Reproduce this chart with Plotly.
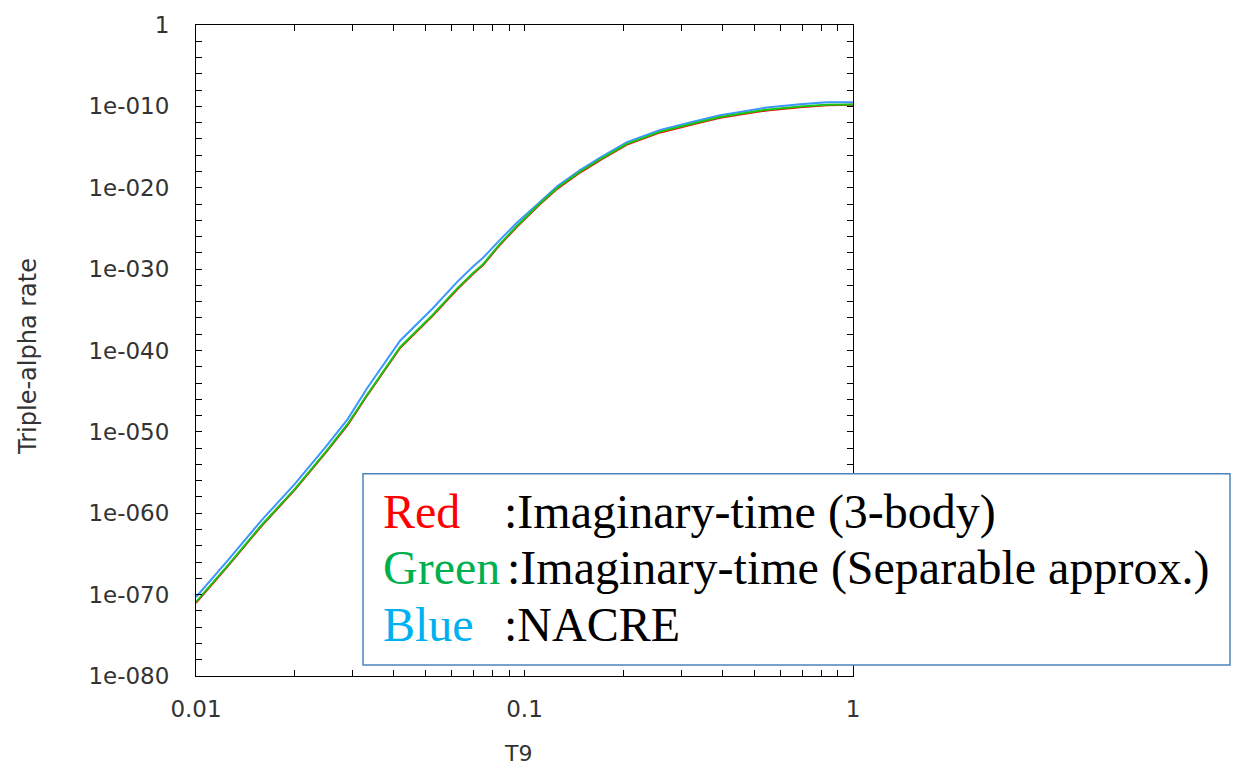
import plotly.graph_objects as go

# ---- data ----
t9 = [0.0100, 0.0125, 0.0158, 0.0200, 0.0250, 0.0290, 0.0331, 0.0418, 0.0526,
      0.0623, 0.0696, 0.0748, 0.0842, 0.0948, 0.111, 0.126, 0.148, 0.170,
      0.205, 0.259, 0.326, 0.394, 0.453, 0.546, 0.690, 0.832, 1.000]

rate_red = [1.0e-71, 3.16e-67, 2.51e-62, 7.94e-58, 3.98e-53, 7.94e-50, 2.51e-46,
            2.0e-40, 2.0e-36, 3.16e-33, 2.51e-31, 3.16e-30, 1.0e-27, 1.58e-25,
            7.94e-23, 7.94e-21, 7.94e-19, 2.51e-17, 2.0e-15, 6.31e-14, 6.31e-13,
            3.98e-12, 1.0e-11, 3.16e-11, 7.94e-11, 1.41e-10, 1.58e-10]

rate_green = [1.26e-71, 3.98e-67, 3.16e-62, 1.0e-57, 5.01e-53, 1.0e-49, 3.16e-46,
              2.51e-40, 2.51e-36, 3.98e-33, 3.16e-31, 3.98e-30, 1.26e-27, 2.0e-25,
              1.0e-22, 1.0e-20, 1.0e-18, 3.16e-17, 2.51e-15, 7.94e-14, 7.94e-13,
              5.01e-12, 1.26e-11, 3.98e-11, 1.0e-10, 1.58e-10, 1.66e-10]

rate_blue = [5.01e-71, 1.58e-66, 1.26e-61, 3.98e-57, 2.0e-52, 3.98e-49, 2.0e-45,
             1.58e-39, 1.58e-35, 2.51e-32, 2.0e-30, 2.51e-29, 3.98e-27, 5.01e-25,
             1.58e-22, 1.58e-20, 1.58e-18, 5.01e-17, 3.98e-15, 1.26e-13, 1.26e-12,
             7.94e-12, 2.0e-11, 7.08e-11, 1.78e-10, 3.16e-10, 3.31e-10]

x_tickvals = [0.01, 0.1, 1]
x_ticktext = ["0.01", "0.1", "1"]
x_minor = [0.02, 0.03, 0.04, 0.05, 0.06, 0.07, 0.08, 0.09,
           0.2, 0.3, 0.4, 0.5, 0.6, 0.7, 0.8, 0.9]

y_tickvals = [1, 1e-10, 1e-20, 1e-30, 1e-40, 1e-50, 1e-60, 1e-70, 1e-80]
y_ticktext = ["1", "1e-010", "1e-020", "1e-030", "1e-040", "1e-050",
              "1e-060", "1e-070", "1e-080"]
y_minor = [10.0 ** (-k) for k in range(2, 80, 2) if k % 10 != 0]

legend_labels = ["Red", "Green", "Blue"]
legend_colors = ["#ff0000", "#00b050", "#00b0f0"]
legend_texts = [":Imaginary-time (3-body)", ":Imaginary-time (Separable approx.)", ":NACRE"]

# ---- figure geometry (pixels) ----
W, H = 1239, 769
L, R, T, B = 196, 853, 19, 676
pw, ph = R - L, B - T


def px(xp):
    return (xp - L) / pw


def py(yp):
    return (B - yp) / ph


fig = go.Figure()
fig.add_trace(go.Scatter(x=t9, y=rate_blue, mode="lines",
                         line=dict(color="rgb(60,150,255)", width=2), showlegend=False))
fig.add_trace(go.Scatter(x=t9, y=rate_red, mode="lines",
                         line=dict(color="rgb(255,0,0)", width=2), showlegend=False))
fig.add_trace(go.Scatter(x=t9, y=rate_green, mode="lines",
                         line=dict(color="rgb(20,200,20)", width=2), showlegend=False))

axis_font = dict(family="DejaVu Sans, Arial, sans-serif", size=23, color="#333333")

fig.update_layout(
    width=W, height=H,
    margin=dict(l=L, r=W - R, t=T, b=H - B, pad=0),
    paper_bgcolor="white", plot_bgcolor="white",
    showlegend=False,
    xaxis=dict(type="log", range=[-2, 0], tickmode="array",
               tickvals=x_tickvals, ticktext=x_ticktext,
               ticks="inside", ticklen=6, tickwidth=1, tickcolor="black",
               showline=True, linecolor="black", linewidth=1, mirror="ticks",
               showgrid=False, zeroline=False, tickfont=axis_font,
               ticklabelstandoff=12,
               minor=dict(tickmode="array", tickvals=x_minor, ticks="inside",
                          ticklen=6, tickwidth=1, tickcolor="black", showgrid=False)),
    yaxis=dict(type="log", range=[-80, 0], tickmode="array",
               tickvals=y_tickvals, ticktext=y_ticktext,
               ticks="inside", ticklen=6, tickwidth=1, tickcolor="black",
               showline=True, linecolor="black", linewidth=1, mirror="ticks",
               showgrid=False, zeroline=False, tickfont=axis_font,
               ticklabelstandoff=21,
               minor=dict(tickmode="array", tickvals=y_minor, ticks="inside",
                          ticklen=6, tickwidth=1, tickcolor="black", showgrid=False)),
)

# axis titles
fig.add_annotation(x=px(28), y=py(354), xref="paper", yref="paper",
                   text="Triple-alpha rate", textangle=-90, showarrow=False,
                   font=dict(family="DejaVu Sans, Arial, sans-serif", size=24, color="#333333"),
                   xanchor="center", yanchor="middle")
fig.add_annotation(x=px(518), y=py(754), xref="paper", yref="paper",
                   text="T9", showarrow=False,
                   font=dict(family="DejaVu Sans, Arial, sans-serif", size=22, color="#333333"),
                   xanchor="center", yanchor="middle")

# legend box
fig.add_shape(type="rect", xref="paper", yref="paper",
              x0=px(363), x1=px(1230), y0=py(665), y1=py(472),
              fillcolor="white", line=dict(color="#4f81bd", width=1.5), layer="above")

serif = "Liberation Serif, Times New Roman, serif"
rows_y = [510, 567, 624]
colon_x = [502, 505, 502]
for lab, col, txt, yy, cx in zip(legend_labels, legend_colors, legend_texts, rows_y, colon_x):
    fig.add_annotation(x=px(381), y=py(yy), xref="paper", yref="paper",
                       text=lab, showarrow=False, xanchor="left", yanchor="middle",
                       font=dict(family=serif, size=48, color=col))
    fig.add_annotation(x=px(cx), y=py(yy), xref="paper", yref="paper",
                       text=txt, showarrow=False, xanchor="left", yanchor="middle",
                       font=dict(family=serif, size=48, color="black"))

fig.write_html(
    "out.html",
    config={"displayModeBar": False},
    post_script="document.body.style.margin='0px';document.body.style.padding='0px';"
                "document.body.style.overflow='hidden';",
)
